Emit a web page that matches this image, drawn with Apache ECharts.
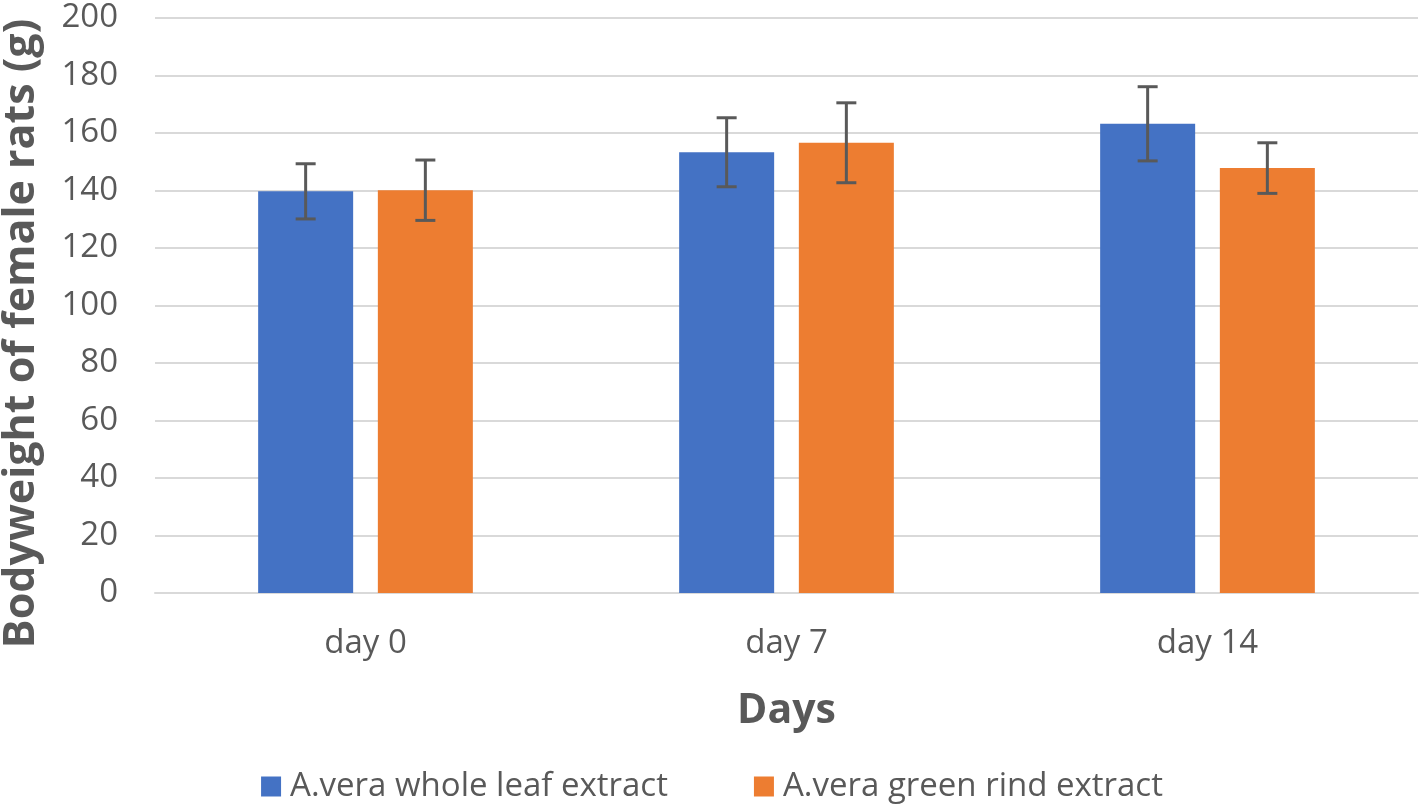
<!DOCTYPE html>
<html>
<head>
<meta charset="utf-8">
<script src="https://cdn.jsdelivr.net/npm/echarts@6/dist/echarts.min.js"></script>
<style>html,body{margin:0;padding:0;background:#fff}#c{width:1424px;height:804px}</style>
</head>
<body>
<div id="c"></div>
<script>
var categories = ['day 0', 'day 7', 'day 14'];
var seriesNames = ['A.vera whole leaf extract', 'A.vera green rind extract'];
var wholeLeaf = [139.7, 153.3, 163.2];
var wholeLeafErr = [9.6, 12.0, 12.9];
var greenRind = [140.1, 156.6, 147.8];
var greenRindErr = [10.5, 13.9, 8.8];
var yTicks = [0, 20, 40, 60, 80, 100, 120, 140, 160, 180, 200];

var FONT = '"Open Sans", "Noto Sans", sans-serif';
var CAT_GAP = 0.49, BAR_GAP = 0.26;

function errData(vals, errs) {
  return vals.map(function (v, i) { return [i, v - errs[i], v + errs[i]]; });
}
function errSeries(vals, errs, idx) {
  return {
    type: 'custom',
    z: 10,
    silent: true,
    data: errData(vals, errs),
    renderItem: function (params, api) {
      var band = api.size([1, 0])[0];
      var bw = band * (1 - CAT_GAP) / (2 + BAR_GAP);
      var off = (bw + bw * BAR_GAP) / 2 * (idx === 0 ? -1 : 1);
      var lo = api.coord([api.value(0), api.value(1)]);
      var hi = api.coord([api.value(0), api.value(2)]);
      var x = lo[0] + off, cap = 10;
      var st = { stroke: '#595959', lineWidth: 3 };
      return {
        type: 'group',
        children: [
          { type: 'line', shape: { x1: x, y1: lo[1], x2: x, y2: hi[1] }, style: st },
          { type: 'line', shape: { x1: x - cap, y1: lo[1], x2: x + cap, y2: lo[1] }, style: st },
          { type: 'line', shape: { x1: x - cap, y1: hi[1], x2: x + cap, y2: hi[1] }, style: st }
        ]
      };
    }
  };
}

var chart = echarts.init(document.getElementById('c'), null, { renderer: 'canvas' });
chart.setOption({
  animation: false,
  backgroundColor: '#ffffff',
  textStyle: { fontFamily: FONT },
  grid: { left: 155, right: 6, top: 18, bottom: 211, containLabel: false, outerBoundsMode: 'none' },
  legend: {
    data: seriesNames,
    bottom: -4,
    left: 'center',
    itemWidth: 20,
    itemHeight: 20,
    itemGap: 86,
    icon: 'rect',
    textStyle: { fontSize: 33, color: '#595959', fontFamily: FONT, padding: [0, 0, 0, 4] }
  },
  xAxis: {
    type: 'category',
    data: categories,
    name: 'Days',
    nameLocation: 'middle',
    nameGap: 98,
    nameTextStyle: { fontSize: 41, fontWeight: 'bold', color: '#595959', fontFamily: FONT },
    axisLine: { show: true, lineStyle: { color: '#d9d9d9', width: 2 } },
    axisTick: { show: false },
    axisLabel: { fontSize: 33, color: '#595959', margin: 34, fontFamily: FONT }
  },
  yAxis: {
    type: 'value',
    min: yTicks[0],
    max: yTicks[yTicks.length - 1],
    interval: 20,
    name: 'Bodyweight of female rats (g)',
    nameLocation: 'middle',
    nameGap: 112,
    nameTextStyle: { fontSize: 43, fontWeight: 'bold', color: '#595959', fontFamily: FONT, padding: [0, 56, 0, 0] },
    axisLine: { show: false },
    axisTick: { show: false },
    splitLine: { lineStyle: { color: '#d9d9d9', width: 2 } },
    axisLabel: { fontSize: 33, color: '#595959', margin: 37, fontFamily: FONT }
  },
  series: [
    {
      name: seriesNames[0], type: 'bar', data: wholeLeaf,
      itemStyle: { color: '#4472c4' },
      barGap: (BAR_GAP * 100) + '%', barCategoryGap: (CAT_GAP * 100) + '%'
    },
    {
      name: seriesNames[1], type: 'bar', data: greenRind,
      itemStyle: { color: '#ed7d31' },
      barGap: (BAR_GAP * 100) + '%', barCategoryGap: (CAT_GAP * 100) + '%'
    },
    errSeries(wholeLeaf, wholeLeafErr, 0),
    errSeries(greenRind, greenRindErr, 1)
  ]
});
</script>
</body>
</html>
